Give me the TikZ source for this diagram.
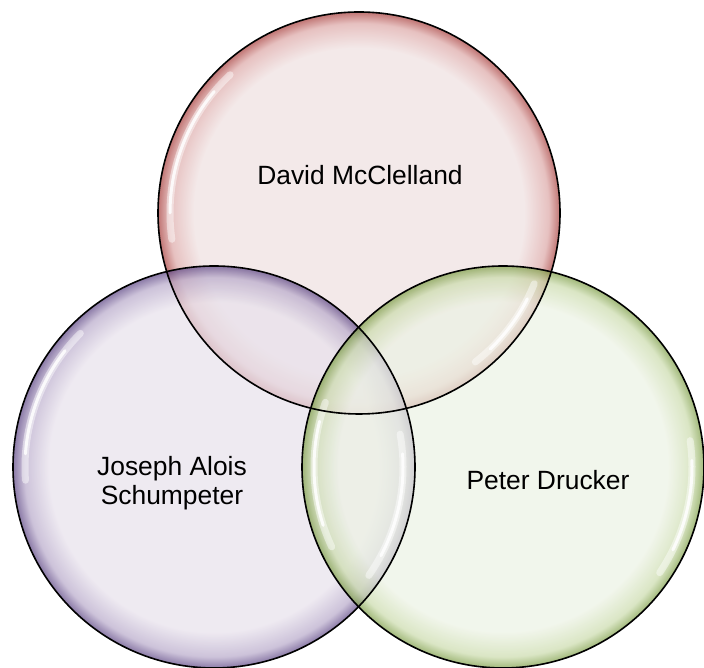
\documentclass[tikz,border=0pt]{standalone}
\usepackage{fontspec}
\setmainfont{Liberation Sans}

% bubble colours: light interior, soft mid tone, deep rim
\definecolor{redIn}{HTML}{EFE1E1}
\definecolor{redMid}{HTML}{DDA9A8}
\definecolor{redOut}{HTML}{A8403E}
\definecolor{purIn}{HTML}{E8E2EC}
\definecolor{purMid}{HTML}{B9ABCB}
\definecolor{purOut}{HTML}{5E4785}
\definecolor{grnIn}{HTML}{ECF2E4}
\definecolor{grnMid}{HTML}{CCDCAE}
\definecolor{grnOut}{HTML}{7E9E48}

% the shading's 25bp radius lands on the bubble's edge
\pgfdeclareradialshading{redbubble}{\pgfpoint{0bp}{0bp}}%
  {color(0bp)=(redIn); color(20.5bp)=(redIn); color(23.6bp)=(redMid); color(25bp)=(redOut); color(50bp)=(redOut)}
\pgfdeclareradialshading{purbubble}{\pgfpoint{0bp}{0bp}}%
  {color(0bp)=(purIn); color(20.5bp)=(purIn); color(23.6bp)=(purMid); color(25bp)=(purOut); color(50bp)=(purOut)}
\pgfdeclareradialshading{grnbubble}{\pgfpoint{0bp}{0bp}}%
  {color(0bp)=(grnIn); color(20.5bp)=(grnIn); color(23.6bp)=(grnMid); color(25bp)=(grnOut); color(50bp)=(grnOut)}

\tikzset{
  bubble/.style={circle, minimum size=402pt, inner sep=0pt, shade, shading=#1, fill opacity=0.72},
  rim/.style={draw=black, line width=1.6pt},
  glint/.style={draw=white, line cap=round, line width=#1, draw opacity=0.45},
  glintcore/.style={draw=white, line cap=round, line width=#1, draw opacity=0.85},
  venntext/.style={font=\fontsize{26.4}{29}\selectfont, text=black, align=center, inner sep=0pt}
}

\begin{document}
\begin{tikzpicture}[x=1pt, y=1pt]
  \useasboundingbox (0,0) rectangle (704,668);

  % the three bubbles
  \node[bubble=redbubble] (red) at (359,455) {};
  \node[bubble=purbubble] (pur) at (214,201) {};
  \node[bubble=grnbubble] (grn) at (503,201) {};

  % glossy glints inside the rims
  \draw[glint=7pt] ([shift={(133:189pt)}]red.center) arc[start angle=133, end angle=188, radius=189pt];
  \draw[glintcore=3pt] ([shift={(140:189pt)}]red.center) arc[start angle=140, end angle=180, radius=189pt];
  \draw[glint=7pt] ([shift={(-22:189pt)}]red.center) arc[start angle=-22, end angle=-52, radius=189pt];
  \draw[glintcore=3pt] ([shift={(-27:189pt)}]red.center) arc[start angle=-27, end angle=-46, radius=189pt];

  \draw[glint=7pt] ([shift={(135:189pt)}]pur.center) arc[start angle=135, end angle=184, radius=189pt];
  \draw[glintcore=3pt] ([shift={(142:189pt)}]pur.center) arc[start angle=142, end angle=176, radius=189pt];
  \draw[glint=7pt] ([shift={(10:189pt)}]pur.center) arc[start angle=10, end angle=-35, radius=189pt];
  \draw[glintcore=3pt] ([shift={(4:189pt)}]pur.center) arc[start angle=4, end angle=-28, radius=189pt];

  \draw[glint=7pt] ([shift={(160:189pt)}]grn.center) arc[start angle=160, end angle=205, radius=189pt];
  \draw[glintcore=3pt] ([shift={(166:189pt)}]grn.center) arc[start angle=166, end angle=198, radius=189pt];
  \draw[glint=7pt] ([shift={(8:189pt)}]grn.center) arc[start angle=8, end angle=-34, radius=189pt];
  \draw[glintcore=3pt] ([shift={(2:189pt)}]grn.center) arc[start angle=2, end angle=-26, radius=189pt];

  % outlines on top of every fill
  \draw[rim] (red.center) circle[radius=201pt];
  \draw[rim] (pur.center) circle[radius=201pt];
  \draw[rim] (grn.center) circle[radius=201pt];

  % labels
  \node[venntext, anchor=base] (tred) at (360,483) {David McClelland};
  \node[venntext] (tpur) at (172,185) {Joseph Alois\\Schumpeter};
  \node[venntext, anchor=base] (tgrn) at (548,178) {Peter Drucker};
\end{tikzpicture}
\end{document}
